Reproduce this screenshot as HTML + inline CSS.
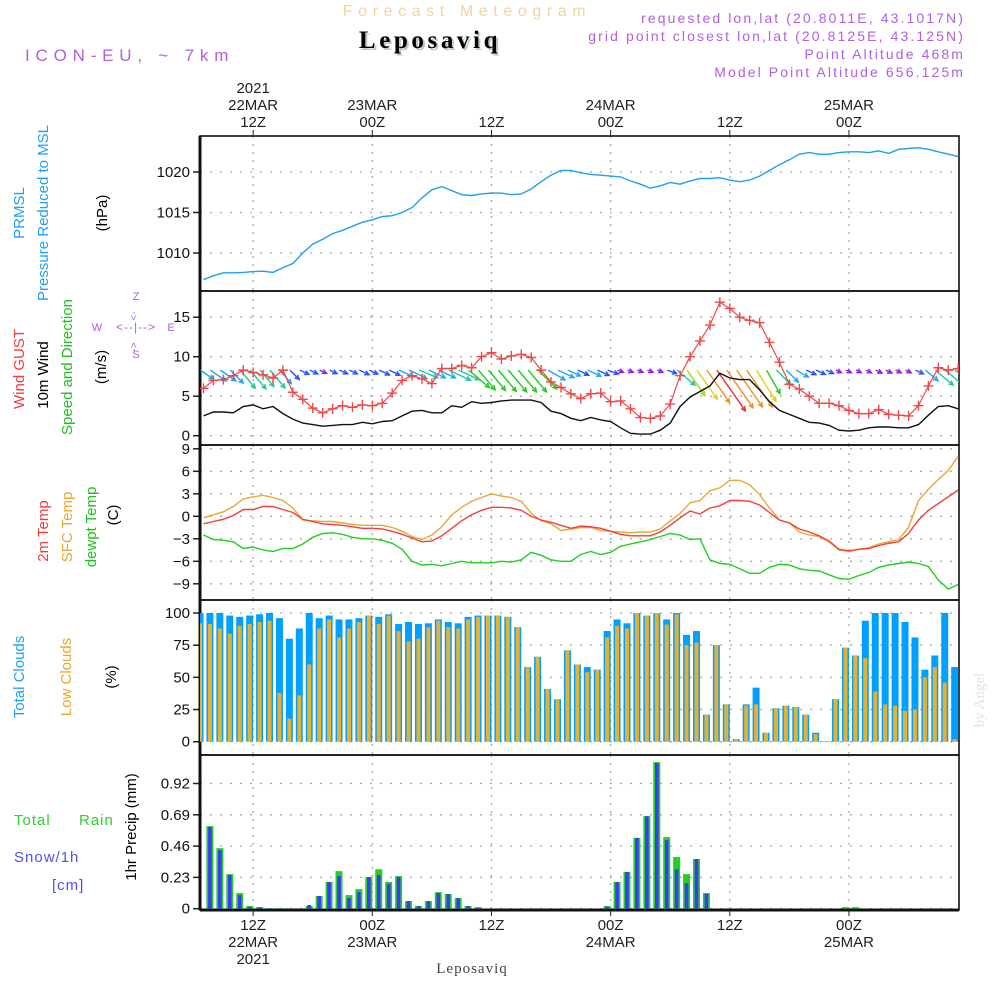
<!DOCTYPE html>
<html><head><meta charset="utf-8">
<style>
html,body{margin:0;padding:0;background:#fff;}
svg{display:block;font-family:"Liberation Sans",sans-serif;}
</style></head>
<body>
<svg id="chart" width="1000" height="1000" viewBox="0 0 1000 1000" xmlns="http://www.w3.org/2000/svg">
<rect x="0" y="0" width="1000" height="1000" fill="#fff"/>
<text x="467" y="16" text-anchor="middle" font-size="16" fill="#f3d49c" letter-spacing="5.6">Forecast Meteogram</text>
<text x="432" y="50" text-anchor="middle" font-size="25" font-weight="bold" font-family="Liberation Serif, serif" fill="#b8ccb8" letter-spacing="3.6">Leposaviq</text>
<text x="430" y="48" text-anchor="middle" font-size="25" font-weight="bold" font-family="Liberation Serif, serif" fill="#000" letter-spacing="3.6">Leposaviq</text>
<text x="25" y="61" font-size="17" fill="#b060e0" letter-spacing="5.8">ICON-EU, ~ 7km</text>
<g font-size="14" fill="#b060e0" text-anchor="end" letter-spacing="2.1">
<text x="965" y="23">requested lon,lat (20.8011E, 43.1017N)</text>
<text x="965" y="41">grid point closest lon,lat (20.8125E, 43.125N)</text>
<text x="965" y="59">Point Altitude 468m</text>
<text x="965" y="77">Model Point Altitude 656.125m</text>
</g>
<g id="axes"></g>
<g id="marks"></g>
<g id="labels" font-size="15">
<text transform="translate(24,213) rotate(-90)" text-anchor="middle" fill="#20a0f0">PRMSL</text>
<text transform="translate(48,213) rotate(-90)" text-anchor="middle" fill="#20a0f0">Pressure Reduced to MSL</text>
<text transform="translate(107,213) rotate(-90)" text-anchor="middle" fill="#000">(hPa)</text>
<text transform="translate(24,369) rotate(-90)" text-anchor="middle" fill="#f03c3c">Wind GUST</text>
<text transform="translate(48,375) rotate(-90)" text-anchor="middle" fill="#000">10m Wind</text>
<text transform="translate(72,367) rotate(-90)" text-anchor="middle" fill="#20c020">Speed and Direction</text>
<text transform="translate(106,367) rotate(-90)" text-anchor="middle" fill="#000">(m/s)</text>
<g fill="#b060e0" font-size="11" text-anchor="middle">
<text x="97" y="331">W</text><text x="171" y="331">E</text><text x="136" y="300">Z</text><text x="136" y="358">S</text>
<text x="136" y="331" font-size="12" letter-spacing="1">&lt;--|--&gt;</text>
<text transform="translate(137,316) rotate(-90)" font-size="10">&lt;-</text>
<text transform="translate(137,347) rotate(-90)" font-size="10">-&gt;</text>
</g>
<text transform="translate(48,531) rotate(-90)" text-anchor="middle" fill="#f03c3c">2m Temp</text>
<text transform="translate(72,527) rotate(-90)" text-anchor="middle" fill="#e8a830">SFC Temp</text>
<text transform="translate(96,527) rotate(-90)" text-anchor="middle" fill="#20c020">dewpt Temp</text>
<text transform="translate(118,515) rotate(-90)" text-anchor="middle" fill="#000">(C)</text>
<text transform="translate(24,677) rotate(-90)" text-anchor="middle" fill="#20a0f0">Total Clouds</text>
<text transform="translate(71,677) rotate(-90)" text-anchor="middle" fill="#e8a830">Low Clouds</text>
<text transform="translate(116,677) rotate(-90)" text-anchor="middle" fill="#000">(%)</text>
<text x="14" y="825" fill="#30d030" letter-spacing="1">Total</text>
<text x="79" y="825" fill="#30d030" letter-spacing="1">Rain</text>
<text x="14" y="862" fill="#5050f0" letter-spacing="1">Snow/1h</text>
<text x="52" y="890" fill="#5050f0" letter-spacing="1">[cm]</text>
<text transform="translate(136,827) rotate(-90)" text-anchor="middle" fill="#000">1hr Precip (mm)</text>
<text x="472" y="973" text-anchor="middle" font-family="Liberation Serif, serif" fill="#444" letter-spacing="1">Leposaviq</text>
<text transform="translate(984,700) rotate(-90)" text-anchor="middle" font-family="Liberation Serif, serif" fill="#dde4dd" font-size="15">by Angel</text>
</g>
</svg>
<script>
const hours = Array.from({length:77},(_,i)=>i);
const pressure = [1006.7,1007.2,1007.55,1007.55,1007.6,1007.7,1007.75,1007.6,1008.2,1008.7,1010.0,1011.1,1011.7,1012.4,1012.8,1013.3,1013.8,1014.1,1014.5,1014.6,1015.0,1015.6,1016.8,1017.8,1018.2,1017.7,1017.2,1017.1,1017.3,1017.4,1017.4,1017.2,1017.3,1017.9,1018.8,1019.6,1020.2,1020.2,1019.9,1019.7,1019.6,1019.5,1019.4,1018.9,1018.5,1018.0,1018.3,1018.7,1018.5,1018.9,1019.2,1019.2,1019.3,1019.0,1018.8,1019.0,1019.5,1020.2,1020.9,1021.5,1022.2,1022.4,1022.2,1022.2,1022.4,1022.5,1022.5,1022.4,1022.6,1022.3,1022.8,1022.9,1023.0,1022.8,1022.5,1022.2,1021.9];
const gust = [6.0,7.0,7.1,7.6,8.3,8.0,7.7,7.3,8.3,5.5,4.6,3.5,2.9,3.4,3.8,3.6,3.9,3.8,4.1,5.4,7.0,7.6,7.2,6.6,8.5,8.5,8.9,8.6,10.0,10.5,9.7,10.1,10.3,9.9,8.3,6.8,6.1,5.3,4.7,5.3,5.4,4.3,4.4,3.4,2.3,2.2,2.5,4.0,7.6,10.0,12.0,14.0,16.9,16.1,15.0,14.6,14.3,11.8,9.3,6.5,5.9,5.0,4.1,4.1,3.8,3.2,2.8,2.8,3.3,2.7,2.6,2.5,3.8,6.3,8.6,8.3,8.5];
const wind = [2.5,3.0,3.0,2.9,3.7,3.9,3.4,3.7,2.8,2.1,1.6,1.4,1.2,1.3,1.4,1.4,1.7,1.5,1.8,1.9,2.5,3.1,3.2,2.9,2.9,3.8,3.6,4.3,4.1,4.2,4.4,4.5,4.5,4.5,4.2,3.1,2.8,2.2,1.9,2.3,2.0,1.8,1.0,0.3,0.2,0.2,0.7,1.6,3.7,4.9,5.6,6.3,7.9,7.3,7.1,7.1,5.8,4.3,3.2,2.7,2.2,1.7,1.6,1.3,0.7,0.6,0.7,1.0,1.1,1.1,1.0,1.0,1.4,2.6,3.7,3.8,3.4];
const windFrom = [305,305,305,315,320,320,320,320,320,315,295,295,295,295,295,295,295,295,295,295,295,295,292,295,295,295,295,310,320,320,320,320,320,320,315,300,295,295,295,295,295,290,290,290,290,290,290,290,310,325,325,325,325,325,325,325,328,330,315,315,300,295,295,295,295,295,295,295,295,295,295,295,295,310,310,310,310];
const temp2m = [-1.0,-0.7,-0.4,0.1,0.9,0.9,1.3,1.3,0.9,0.5,-0.4,-0.7,-1.0,-1.1,-1.2,-1.4,-1.6,-1.6,-1.7,-2.0,-2.4,-2.9,-3.4,-3.3,-2.6,-1.6,-0.6,0.2,0.8,1.2,1.2,1.1,0.8,0.0,-0.5,-0.8,-1.2,-1.6,-1.3,-1.4,-1.6,-2.0,-2.4,-2.6,-2.6,-2.6,-2.1,-1.2,-0.2,0.7,0.3,1.1,1.4,2.1,2.1,2.0,1.5,0.5,-0.5,-0.9,-1.7,-2.1,-2.6,-3.3,-4.4,-4.6,-4.4,-4.3,-3.9,-3.6,-3.4,-2.3,-0.5,0.8,1.7,2.6,3.5];
const tempSfc = [-0.2,0.2,0.6,1.3,2.3,2.6,2.8,2.5,2.1,1.1,-0.5,-0.6,-0.7,-0.7,-0.9,-1.1,-1.2,-1.2,-1.2,-1.5,-2.0,-2.7,-3.1,-2.5,-1.4,0.2,1.2,2.0,2.5,3.0,2.7,2.5,2.0,0.4,-0.6,-1.0,-1.9,-1.7,-1.5,-1.5,-1.9,-2.0,-2.1,-2.2,-2.1,-2.1,-1.7,-0.6,0.4,1.8,2.1,3.4,3.8,4.8,4.8,4.2,2.9,1.1,-0.5,-0.9,-2.1,-2.5,-2.7,-3.4,-4.5,-4.7,-4.4,-4.2,-3.7,-3.4,-3.1,-1.5,2.1,3.6,4.9,6.1,8.0];
const dewpt = [-2.5,-3.1,-3.2,-3.4,-4.3,-4.1,-4.5,-4.7,-4.3,-4.3,-3.7,-2.8,-2.3,-2.2,-2.4,-2.8,-3.0,-3.0,-3.2,-3.6,-4.4,-6.0,-6.5,-6.4,-6.6,-6.3,-6.0,-6.2,-6.2,-6.2,-6.0,-6.1,-5.8,-4.8,-5.2,-5.8,-6.0,-6.0,-5.1,-4.7,-5.1,-4.8,-4.0,-3.7,-3.4,-3.1,-2.7,-2.3,-2.5,-3.1,-3.0,-5.8,-6.3,-6.4,-7.0,-7.6,-7.6,-6.8,-6.4,-6.5,-7.0,-7.2,-7.3,-7.8,-8.3,-8.4,-7.9,-7.5,-6.8,-6.5,-6.3,-6.1,-6.3,-6.7,-8.5,-9.7,-9.1];
const totalClouds = [100,100,100,98,97,98,99,100,96,80,88,100,96,98,95,95,96,98,97,99,91.5,93,91.5,92,95,93,92,97,98,98,98,97,89,58,66,41,33,71,60,58,56,86,95,92,100,98,100,95,100,83,86,21,75,29,2,29,42,7,26,28,27,21,7,0.5,33,73,67,94,100,100,100,93,81,56,67,100,58];
const lowClouds = [92,91.5,88,84,90,91.5,93,94,38,18,36,60,88,95,81,88,93,98,91.5,98,86,78,80,89,94,89,88,95,97,98,98,97,89,58,66,41,33,71,60,54,56,81,90,88,100,98,100,91,99,75,77,21,75,29,2,28,29,7,26,28,27,21,6,0.5,33,73,67,65,39,29,28,24,25,50,58,46,2];
const precipTotal = [0,0.607,0.445,0.254,0.115,0.02,0.012,0.003,0.003,0,0,0.02,0.093,0.196,0.276,0.10,0.144,0.232,0.29,0.196,0.24,0.056,0.02,0.056,0.122,0.108,0.078,0.02,0.012,0,0,0,0,0,0,0,0,0,0,0,0,0.02,0.196,0.27,0.52,0.68,1.077,0.526,0.38,0.254,0.365,0.115,0,0,0,0,0,0,0,0,0,0,0,0,0,0.012,0.012,0,0,0,0,0,0,0,0,0,0];
const precipRain = [0,0.600,0.43,0.247,0.10,0.012,0.01,0.003,0.003,0,0,0.027,0.093,0.196,0.24,0.078,0.122,0.232,0.247,0.181,0.232,0.056,0.02,0.056,0.115,0.108,0.078,0.02,0.005,0,0,0,0,0,0,0,0,0,0,0,0,0.015,0.196,0.27,0.52,0.68,1.07,0.504,0.29,0.188,0.365,0.108,0,0,0,0,0,0,0,0,0,0,0,0,0,0,0,0,0,0,0,0,0,0,0,0,0];
const pressureTicks = [1020,1015,1010];
const windTicks = [15,10,5,0];
const tempTicks = [9,6,3,0,-3,-6,-9];
const cloudTicks = [100,75,50,25,0];
const precipTicks = [0.92,0.69,0.46,0.23,0];
const timeTickHours = [5,17,29,41,53,65];
const timeLabelsTop = [["2021","22MAR","12Z"],["","23MAR","00Z"],["","","12Z"],["","24MAR","00Z"],["","","12Z"],["","25MAR","00Z"]];
const timeLabelsBottom = [["12Z","22MAR","2021"],["00Z","23MAR",""],["12Z","",""],["00Z","24MAR",""],["12Z","",""],["00Z","25MAR",""]];

const NS="http://www.w3.org/2000/svg";
const axesG=document.getElementById('axes'), marksG=document.getElementById('marks');
function mk(tag,attrs,parent){const e=document.createElementNS(NS,tag);for(const k in attrs)e.setAttribute(k,attrs[k]);(parent||marksG).appendChild(e);return e;}
const X0=200,X1=959;
const xScale=i=>203.5+9.93*i;
const yP=v=>172+(1020-v)*8.1;
const yW=v=>435.7-v*7.9;
const yT=v=>516.3-v*7.5;
const yC=v=>741.7-v*1.287;
const yR=v=>908.7-v*136.1;
const panels=[{t:136,b:291,ticks:pressureTicks,y:yP,name:'pressure',fmt:v=>v},{t:291,b:445,ticks:windTicks,y:yW,name:'wind',fmt:v=>v},{t:445,b:600,ticks:tempTicks,y:yT,name:'temperature',fmt:v=>String(v).replace('-','\u2212')},{t:600,b:755,ticks:cloudTicks,y:yC,name:'clouds',fmt:v=>v},{t:755,b:910,ticks:precipTicks,y:yR,name:'precip',fmt:v=>v===0?'0':v.toFixed(2)}];

const defs=mk('defs',{},axesG);
panels.forEach((p,k)=>{const c=mk('clipPath',{id:'clip'+k},defs);mk('rect',{x:X0,y:p.t,width:X1-X0,height:p.b-p.t},c);});

panels.forEach((p,k)=>{
  p.ticks.forEach(v=>{
    const y=p.y(v);
    const gl=mk('line',{x1:X0,x2:X1,y1:y,y2:y,stroke:'#aaa','stroke-width':1.3,'stroke-dasharray':'2,8'},axesG);
    
    
    mk('line',{x1:X0-7,x2:X0,y1:y,y2:y,stroke:'#222','stroke-width':1.5},axesG);
    const t=mk('text',{x:X0-10,y:y+5,'text-anchor':'end','font-size':15,fill:'#111'},axesG);
    t.textContent=p.fmt(v);
    
    
  });
  timeTickHours.forEach(h=>{
    const x=xScale(h);
    const vl=mk('line',{x1:x,x2:x,y1:p.t,y2:p.b,stroke:'#aaa','stroke-width':1.3,'stroke-dasharray':'2,6'},axesG);
    
    
  });
  const fr=mk('rect',{x:X0,y:p.t,width:X1-X0,height:p.b-p.t,fill:'none',stroke:'#111','stroke-width':1.6},axesG);
  
  
});
mk('line',{x1:X0,x2:X0,y1:136,y2:910,stroke:'#111','stroke-width':3},axesG);
mk('line',{x1:X0,x2:X1,y1:910,y2:910,stroke:'#111','stroke-width':3},axesG);
timeTickHours.forEach((h,k)=>{
  const x=xScale(h);
  mk('line',{x1:x,x2:x,y1:130,y2:136,stroke:'#222','stroke-width':1},axesG);
  mk('line',{x1:x,x2:x,y1:910,y2:916,stroke:'#222','stroke-width':1},axesG);
  timeLabelsTop[k].forEach((s,r)=>{if(!s)return;const t=mk('text',{x:x,y:93+r*17,'text-anchor':'middle','font-size':15,fill:'#222'},axesG);t.textContent=s;
    
    });
  timeLabelsBottom[k].forEach((s,r)=>{if(!s)return;const t=mk('text',{x:x,y:930+r*17,'text-anchor':'middle','font-size':15,fill:'#222'},axesG);t.textContent=s;
    
    });
});

function line(data,yf,color,name,clip,w){
  const pts=data.map((v,i)=>xScale(i).toFixed(1)+','+yf(v).toFixed(1)).join(' ');
  const pl=mk('polyline',{points:pts,fill:'none',stroke:color,'stroke-width':w||1.4,'clip-path':'url(#clip'+clip+')'});
  
  
}
line(pressure,yP,'#1ea0f0','pressure-line',0);
function windColor(s){if(s<1.3)return'#9020e0';if(s<2.2)return'#2a50ff';if(s<3.2)return'#20a8ee';if(s<4.0)return'#20c8a0';if(s<4.8)return'#20cc20';if(s<5.4)return'#a0d820';if(s<6.0)return'#e0d020';if(s<7.5)return'#f09020';return'#ee3030';}
wind.forEach((s,i)=>{
  const b=(windFrom[i]+180)*Math.PI/180;
  const L=Math.max(6,6.3*s);
  const x0=xScale(i)-3,y0=yW(8.3);
  const x1=x0+Math.sin(b)*L,y1=y0-Math.cos(b)*L;
  const c=windColor(s);
  const g=mk('g',{stroke:c,'stroke-width':1.4,fill:'none','clip-path':'url(#clip1)'});
  
  
  mk('line',{x1:x0,y1:y0,x2:x1,y2:y1},g);
  const a=Math.atan2(y1-y0,x1-x0),h=5;
  mk('polyline',{points:`${x1-h*Math.cos(a-0.45)},${y1-h*Math.sin(a-0.45)} ${x1},${y1} ${x1-h*Math.cos(a+0.45)},${y1-h*Math.sin(a+0.45)}`},g);
});
line(wind,yW,'#111','wind-speed-line',1);
line(gust,yW,'#f04848','wind-gust-line',1,1.2);
gust.forEach((v,i)=>{
  const x=xScale(i),y=yW(v);
  const p=mk('path',{d:`M${x-5},${y}H${x+5}M${x},${y-5}V${y+5}`,stroke:'#f04848','stroke-width':1.4,'clip-path':'url(#clip1)'});
  
  
});
line(dewpt,yT,'#20d020','dewpoint-line',2);
line(tempSfc,yT,'#e8a830','sfc-temp-line',2);
line(temp2m,yT,'#f04040','temp-2m-line',2);
totalClouds.forEach((v,i)=>{
  const x=xScale(i)-3.5;
  const r=mk('rect',{x:x-3.5,y:yC(v),width:7,height:yC(0)-yC(v),fill:'#00a0ff','clip-path':'url(#clip3)'});
  
  
  const lv=lowClouds[i];
  const o=mk('rect',{x:x-2,y:yC(lv),width:4,height:yC(0)-yC(lv),fill:'#e8b030','clip-path':'url(#clip3)'});
  
  
});
precipTotal.forEach((v,i)=>{
  const x=xScale(i)-3.5;
  if(v>0){const r=mk('rect',{x:x-3.5,y:yR(v),width:7,height:yR(0)-yR(v),fill:'#22d022','clip-path':'url(#clip4)'});
  
  }
  const rv=precipRain[i];
  if(rv>0){const b=mk('rect',{x:x-1.8,y:yR(rv),width:3.6,height:yR(0)-yR(rv),fill:'#3a3aff','clip-path':'url(#clip4)'});
  
  }
});
</script>
</body></html>
